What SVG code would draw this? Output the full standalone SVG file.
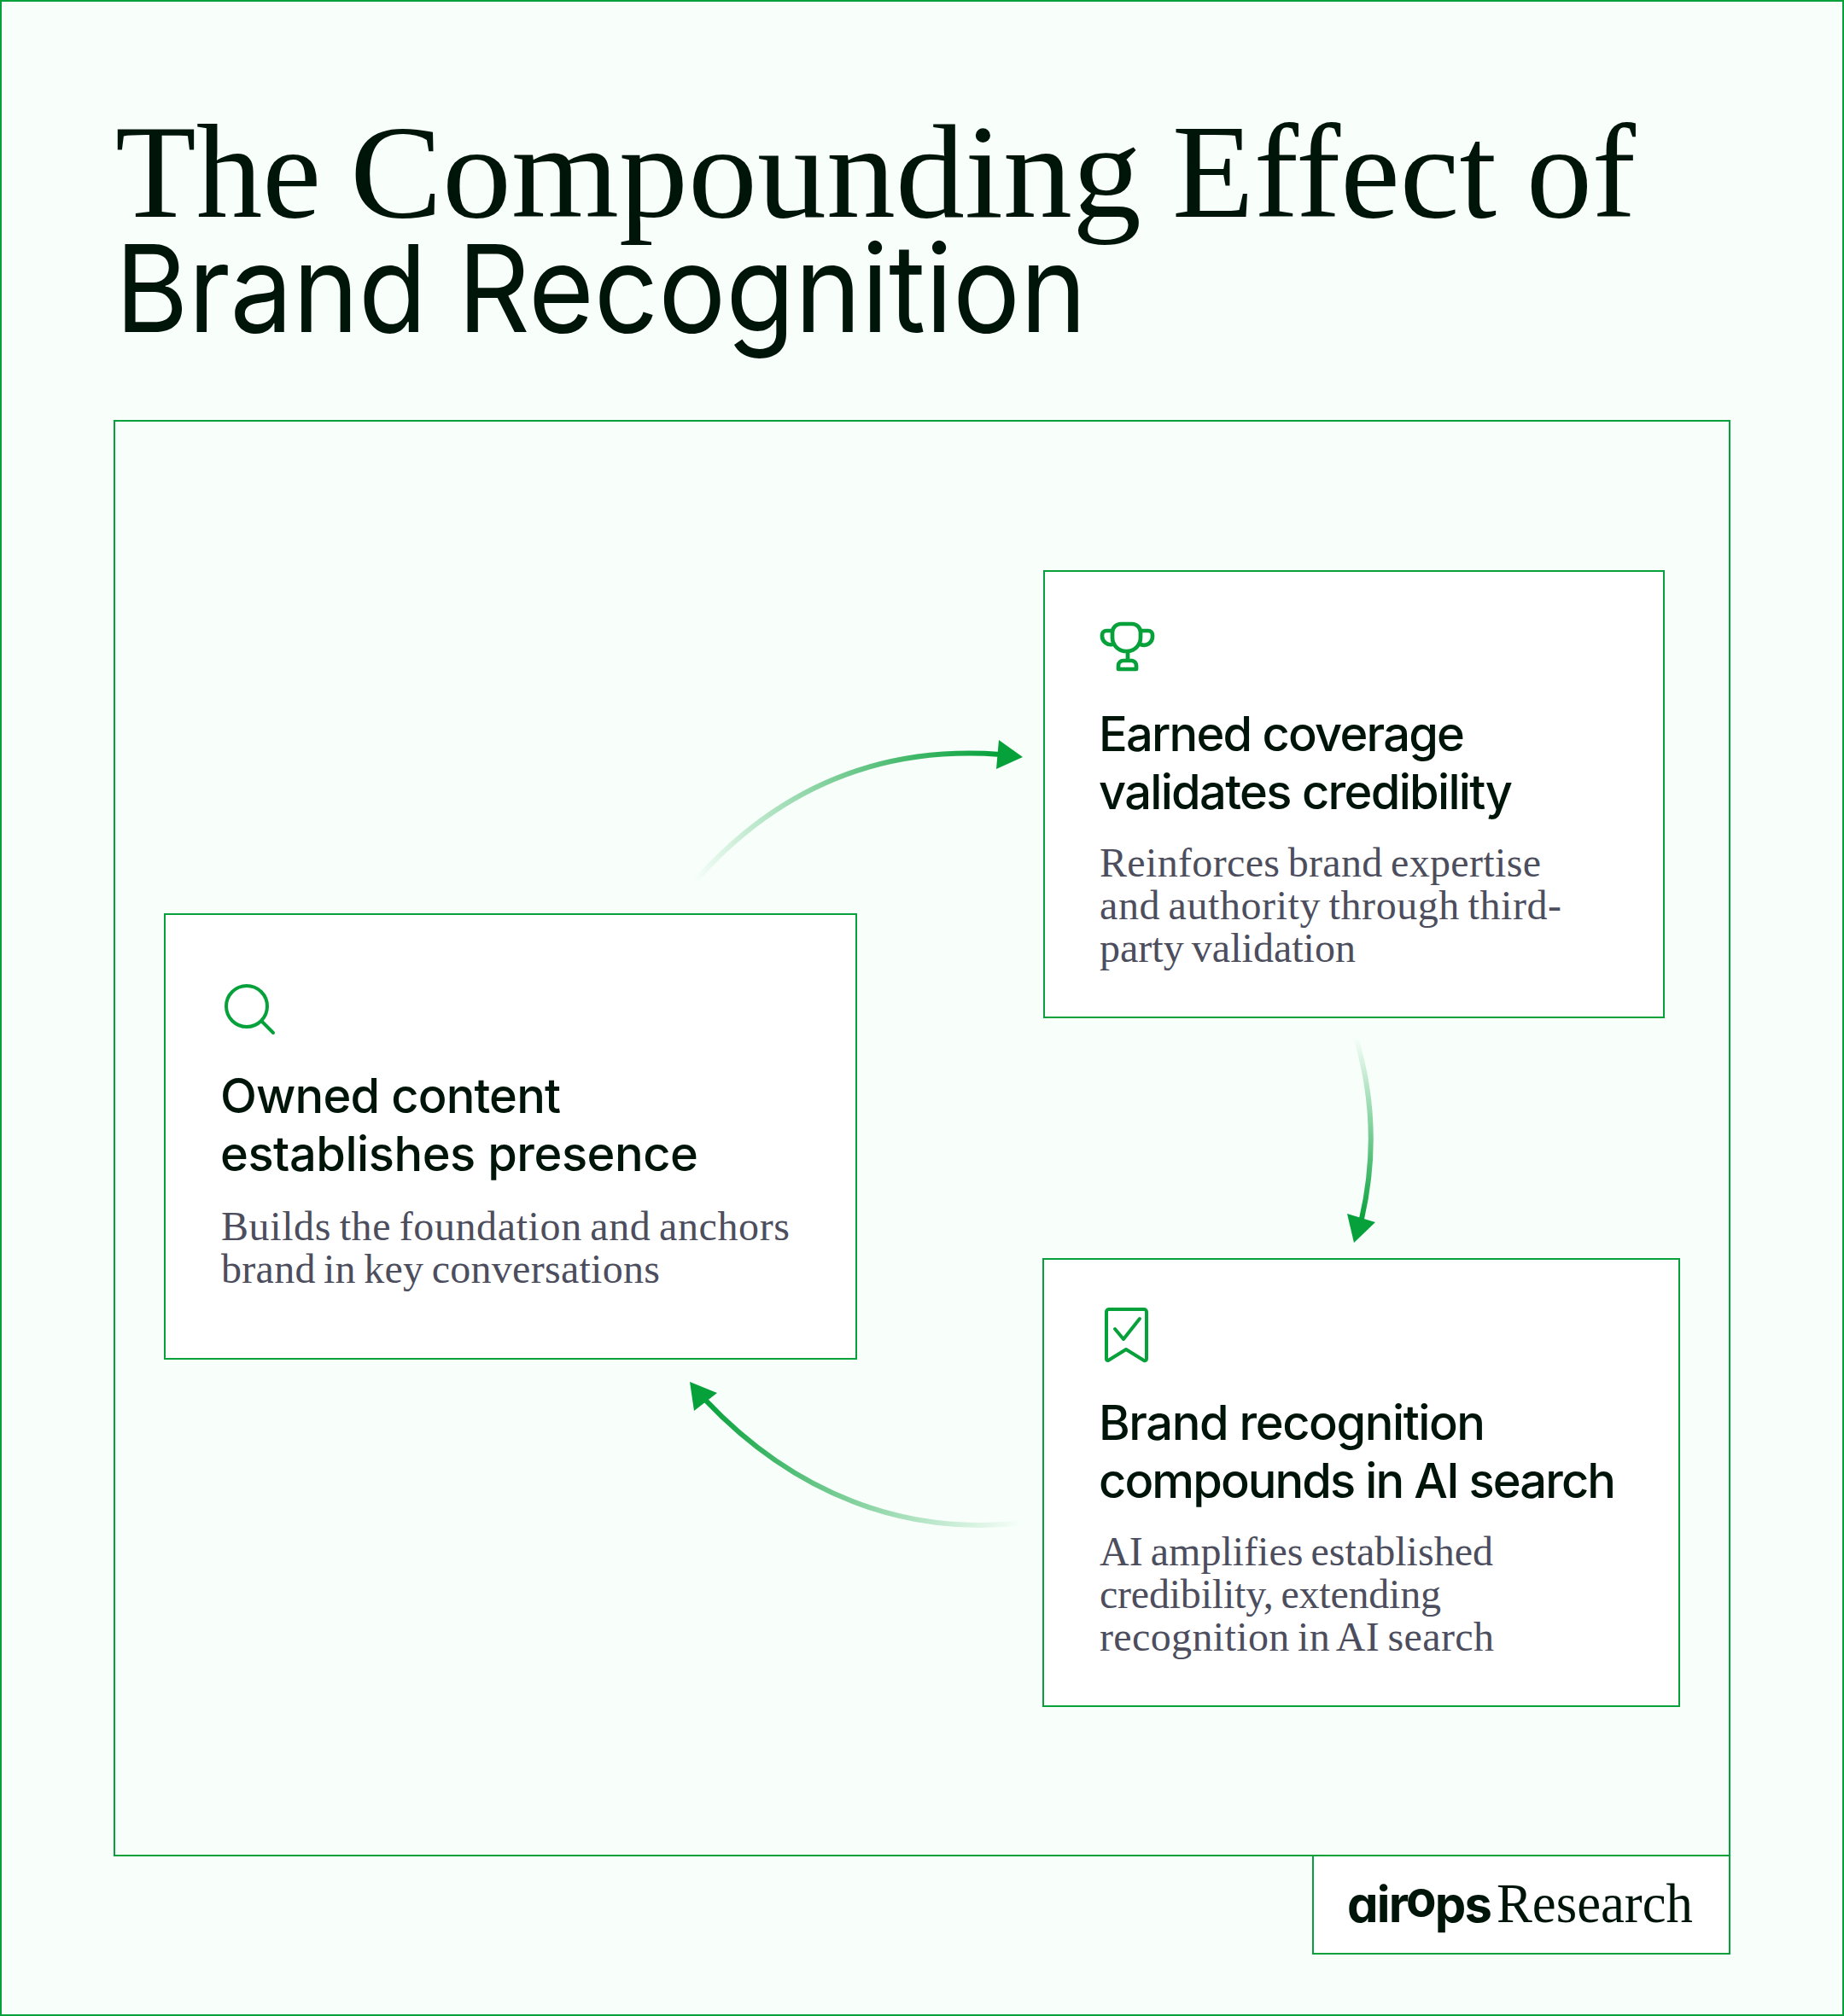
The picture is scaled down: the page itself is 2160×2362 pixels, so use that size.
<svg xmlns="http://www.w3.org/2000/svg" width="2160" height="2362" viewBox="0 0 2160 2362">
<style>
.frame{fill:none;stroke:#06a13a;stroke-width:2}
.card{fill:#fff;stroke:#06a13a;stroke-width:2}
.ico{fill:none;stroke:#06a13a;stroke-width:4;stroke-linecap:round;stroke-linejoin:round}
.h{font-family:"Inter","Liberation Sans",sans-serif;font-weight:550;font-size:56px;fill:#00150a}
.b{font-family:"Liberation Serif",serif;font-size:48px;word-spacing:-3px;fill:#4c4e5e}
.t1{font-family:"Liberation Serif",serif;font-size:156px;fill:#00150a}
.t2{font-family:"Inter","Liberation Sans",sans-serif;font-size:142px;fill:#00150a}
.conn{fill:none;stroke-width:6}
.head{fill:#06a13a}
</style>
<defs>
<linearGradient id="g1" gradientUnits="userSpaceOnUse" x1="812" y1="1035" x2="1170" y2="884"><stop offset="0" stop-color="#06a13a" stop-opacity="0"/><stop offset="1" stop-color="#06a13a"/></linearGradient>
<linearGradient id="g2" gradientUnits="userSpaceOnUse" x1="1588" y1="1215" x2="1595" y2="1430"><stop offset="0" stop-color="#06a13a" stop-opacity="0"/><stop offset="1" stop-color="#06a13a"/></linearGradient>
<linearGradient id="g3" gradientUnits="userSpaceOnUse" x1="1198" y1="1784" x2="826" y2="1640"><stop offset="0" stop-color="#06a13a" stop-opacity="0"/><stop offset="1" stop-color="#06a13a"/></linearGradient>
</defs>
<rect width="2160" height="2362" fill="#f8fffb"/>
<rect class="frame" x="1" y="1" width="2158" height="2360"/>
<g id="title">
<text class="t1" y="254"><tspan x="135" textLength="241" lengthAdjust="spacingAndGlyphs">The</tspan> <tspan x="410" textLength="927" lengthAdjust="spacingAndGlyphs">Compounding</tspan> <tspan x="1373" textLength="380" lengthAdjust="spacingAndGlyphs">Effect</tspan> <tspan x="1788" textLength="128" lengthAdjust="spacingAndGlyphs">of</tspan></text>
<text class="t2" y="389"><tspan x="135" textLength="365" lengthAdjust="spacingAndGlyphs">Brand</tspan> <tspan x="536" textLength="737" lengthAdjust="spacingAndGlyphs">Recognition</tspan></text>
</g>
<rect id="main-frame" class="frame" x="134" y="493" width="1892" height="1681"/>
<g id="connectors">
<path class="conn" stroke="url(#g1)" d="M812 1035C895 940 1010 872 1172 884"/>
<polygon class="head" points="1170,867 1198,887 1167,901"/>
<path class="conn" stroke="url(#g2)" d="M1588 1215C1606 1275 1614 1345 1595 1428"/>
<polygon class="head" points="1578,1422 1611,1432 1586,1456"/>
<path class="conn" stroke="url(#g3)" d="M1198 1784C1060 1800 930 1750 826 1640"/>
<polygon class="head" points="808,1619 840,1632 813,1653"/>
</g>
<g id="node-earned">
<rect class="card" x="1223" y="669" width="726" height="523"/>
<g class="ico" style="stroke-width:4.7">
<path d="M1303 741a10 10 0 0 1 10-10h13a10 10 0 0 1 10 10v6a16 16 0 0 1-16 16h-1a16 16 0 0 1-16-16z"/>
<path d="M1303 739h-7a5 5 0 0 0-5 5v2a10 10 0 0 0 12 9M1336 739h9a5 5 0 0 1 5 5v2a10 10 0 0 1-14 9"/>
<path d="M1321 764v9M1316 774h10a6 6 0 0 1 5 6v4h-21v-4a6 6 0 0 1 6-6z"/>
</g>
<text class="h" x="1287" y="880" textLength="429">Earned coverage</text>
<text class="h" x="1287" y="948" textLength="485">validates credibility</text>
<text class="b" x="1288" y="1027" textLength="517">Reinforces brand expertise</text>
<text class="b" x="1288" y="1077" textLength="541">and authority through third-</text>
<text class="b" x="1288" y="1127" textLength="300">party validation</text>
</g>
<g id="node-owned">
<rect class="card" x="193" y="1071" width="810" height="521"/>
<g class="ico"><circle cx="289" cy="1179" r="24"/><path d="M307 1197L320 1210"/></g>
<text class="h" x="258" y="1304" textLength="399">Owned content</text>
<text class="h" x="258" y="1372" textLength="560">establishes presence</text>
<text class="b" x="259" y="1453" textLength="666">Builds the foundation and anchors</text>
<text class="b" x="259" y="1503" textLength="514">brand in key conversations</text>
</g>
<g id="node-recognition">
<rect class="card" x="1222" y="1475" width="745" height="524"/>
<g class="ico"><path d="M1296 1537a3 3 0 0 1 3-3h41a3 3 0 0 1 3 3v55a2 2 0 0 1-3 2l-21-13-21 13a2 2 0 0 1-2-2z"/><path d="M1306 1557L1316 1569L1335 1545"/></g>
<text class="h" x="1287" y="1687" textLength="453">Brand recognition</text>
<text class="h" x="1287" y="1755" textLength="606">compounds in AI search</text>
<text class="b" x="1288" y="1834" textLength="461">AI amplifies established</text>
<text class="b" x="1288" y="1884" textLength="400">credibility, extending</text>
<text class="b" x="1288" y="1934" textLength="462">recognition in AI search</text>
</g>
<g id="logo">
<rect class="card" x="1538" y="2174" width="488" height="115"/>
<text x="1578" y="2252" font-family="Inter,'Liberation Sans',sans-serif" font-weight="700" font-size="58" fill="#00150a" style="font-feature-settings:'cv11'" textLength="170">air<tspan dy="-7">o</tspan><tspan dy="7">ps</tspan></text>
<text x="1753" y="2252" font-family="'Liberation Serif',serif" font-size="65" fill="#00150a" textLength="230" lengthAdjust="spacingAndGlyphs">Research</text>
</g>
</svg>
